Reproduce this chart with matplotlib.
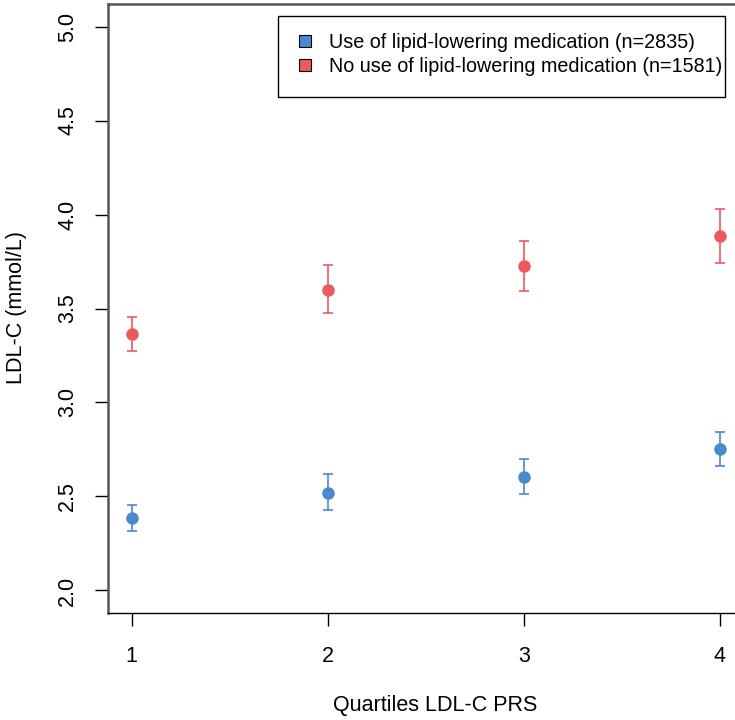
import matplotlib
matplotlib.use('Agg')
import matplotlib.pyplot as plt
from matplotlib.lines import Line2D
from matplotlib.patches import Rectangle

plt.rcParams['font.family'] = ['Liberation Sans', 'DejaVu Sans']

# quartiles of the LDL-C polygenic risk score
quartiles = [1, 2, 3, 4]

# users of lipid-lowering medication (n=2835)
med_mean = [2.386, 2.521, 2.603, 2.752]
med_low = [2.315, 2.429, 2.512, 2.661]
med_high = [2.455, 2.617, 2.697, 2.844]

# non-users (n=1581)
nomed_mean = [3.363, 3.601, 3.727, 3.885]
nomed_low = [3.272, 3.475, 3.592, 3.743]
nomed_high = [3.454, 3.734, 3.858, 4.027]

y_ticks = [2.0, 2.5, 3.0, 3.5, 4.0, 4.5, 5.0]
labels = ['Use of lipid-lowering medication (n=2835)',
          'No use of lipid-lowering medication (n=1581)']

blue = '#4A88CF'
red = '#EC5A5E'

W, H = 735, 720
fig = plt.figure(figsize=(W / 100, H / 100), dpi=100)
# plot region runs a little past the right edge, as in the cropped original
ax = fig.add_axes([108 / W, 1 - 613 / H, (743.5 - 108) / W, (613 - 4) / H])


def draw(means, lows, highs, color):
    err = [[m - l for m, l in zip(means, lows)],
           [h - m for m, h in zip(means, highs)]]
    ax.errorbar(quartiles, means, yerr=err, fmt='o', color=color,
                markersize=8, elinewidth=1.2, capsize=3.8, capthick=1.2,
                clip_on=False)


draw(med_mean, med_low, med_high, blue)
draw(nomed_mean, nomed_low, nomed_high, red)

ax.set_xlim(0.88, 4.12)
ax.set_ylim(1.88, 5.12)
ax.set_xticks(quartiles)
ax.set_yticks(y_ticks)
ax.set_yticklabels([f'{v:.1f}' for v in y_ticks], rotation=90, va='center')
ax.tick_params(axis='both', direction='out', length=9.5, width=1,
               labelsize=15.5, color='black')
ax.tick_params(axis='x', pad=14)
ax.tick_params(axis='y', pad=12)

for side in ['left', 'top']:
    ax.spines[side].set_color('#555555')
    ax.spines[side].set_linewidth(1.8)
ax.spines['bottom'].set_color('black')
ax.spines['bottom'].set_linewidth(1.0)
ax.spines['right'].set_visible(False)

fig.text(17 / W, 1 - 308 / H, 'LDL-C (mmol/L)', rotation=90,
         ha='center', va='center', fontsize=15.5)
fig.text(435 / W, 1 - 706 / H, 'Quartiles LDL-C PRS',
         ha='center', va='center', fontsize=15.5)

# legend box drawn separately so its padding matches the R-style legend
fig.add_artist(Rectangle((278 / W, 1 - 97 / H), (725 - 278) / W, (97 - 16) / H,
                         transform=fig.transFigure, facecolor='white',
                         edgecolor='black', linewidth=1.0, zorder=5))
handles = [Line2D([], [], marker='s', linestyle='none', markersize=8.5,
                  markerfacecolor=c, markeredgecolor='black',
                  markeredgewidth=0.8) for c in (blue, red)]
leg = fig.legend(handles, labels, loc='upper left',
                 bbox_to_anchor=(294 / W, 1 - 33 / H),
                 bbox_transform=fig.transFigure, borderaxespad=0,
                 fontsize=14.2, frameon=False,
                 handlelength=1.1, handletextpad=0.65, labelspacing=0.25,
                 borderpad=0)
leg.set_zorder(6)

fig.savefig('out.png', dpi=100)
